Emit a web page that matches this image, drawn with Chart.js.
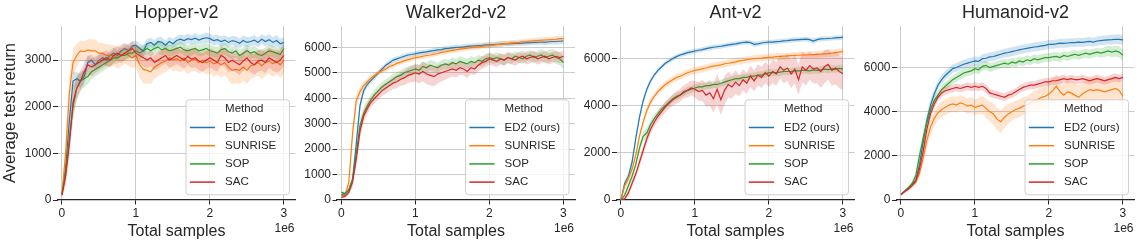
<!DOCTYPE html>
<html>
<head>
<meta charset="utf-8">
<script src="https://cdn.jsdelivr.net/npm/chart.js@4.4.1/dist/chart.umd.min.js"></script>
<style>
  body { margin: 0; background: #fff; }
  .panel { position: absolute; top: 0; }
</style>
</head>
<body>
<canvas class="panel" id="c0" width="300" height="247" style="left:0px"></canvas>
<canvas class="panel" id="c1" width="280" height="247" style="left:300px"></canvas>
<canvas class="panel" id="c2" width="280" height="247" style="left:580px"></canvas>
<canvas class="panel" id="c3" width="280" height="247" style="left:860px"></canvas>
<script>
// x values, in units of 1e6 samples
const samples = [
    0, 0.05, 0.1, 0.15, 0.2, 0.25, 0.3, 0.35, 0.4, 0.45,
    0.5, 0.55, 0.6, 0.65, 0.7, 0.75, 0.8, 0.85, 0.9, 0.95,
    1, 1.05, 1.1, 1.15, 1.2, 1.25, 1.3, 1.35, 1.4, 1.45,
    1.5, 1.55, 1.6, 1.65, 1.7, 1.75, 1.8, 1.85, 1.9, 1.95,
    2, 2.05, 2.1, 2.15, 2.2, 2.25, 2.3, 2.35, 2.4, 2.45,
    2.5, 2.55, 2.6, 2.65, 2.7, 2.75, 2.8, 2.85, 2.9, 2.95,
    3
];
const methods = ['ED2 (ours)', 'SUNRISE', 'SOP', 'SAC'];
const envTitles = ['Hopper-v2', 'Walker2d-v2', 'Ant-v2', 'Humanoid-v2'];
const xTicks = [0, 1, 2, 3];
const yTicksHopper = [0, 1000, 2000, 3000];
const yTicksWalker = [0, 1000, 2000, 3000, 4000, 5000, 6000];
const yTicksAnt = [0, 2000, 4000, 6000];
const yTicksHumanoid = [0, 2000, 4000, 6000];

// ---- Hopper-v2 ----
const hopperED2 = [
    120, 700, 1700, 2550, 2600, 2550, 2650, 2950, 3000, 2900,
    3000, 3050, 3000, 3100, 3150, 3100, 3200, 3250, 3200, 3300,
    3320, 3250, 3200, 3350, 3380, 3320, 3400, 3380, 3320, 3400,
    3350, 3420, 3450, 3420, 3460, 3440, 3470, 3430, 3460, 3480,
    3460, 3420, 3440, 3400, 3430, 3380, 3420, 3400, 3360, 3420,
    3380, 3400, 3430, 3380, 3450, 3400, 3440, 3380, 3420, 3350,
    3380
];
const hopperSUNRISE = [
    130, 1000, 2300, 2950, 3100, 3200, 3180, 3220, 3200, 3200,
    3150, 3150, 3100, 3100, 3100, 3050, 3100, 3150, 3100, 3050,
    3100, 2900, 2800, 2780, 2750, 2850, 2900, 2950, 2980, 3050,
    3000, 3030, 2980, 3050, 2950, 3000, 3020, 2950, 3000, 2950,
    2980, 2920, 2950, 2900, 2950, 2850, 2780, 2800, 2780, 2850,
    2780, 2880, 2900, 2950, 2880, 2950, 2980, 2920, 2970, 2900,
    3000
];
const hopperSOP = [
    120, 600, 1300, 2000, 2400, 2550, 2600, 2650, 2750, 2800,
    2850, 2900, 2950, 3000, 3050, 3050, 3100, 3100, 3150, 3150,
    3200, 3150, 3200, 3250, 3200, 3250, 3280, 3220, 3250, 3200,
    3220, 3250, 3280, 3220, 3200, 3230, 3250, 3200, 3220, 3250,
    3200, 3180, 3150, 3220, 3250, 3180, 3150, 3200, 3100, 3150,
    3200, 3150, 3180, 3120, 3100, 3150, 3200, 3180, 3150, 3120,
    3250
];
const hopperSAC = [
    100, 500, 1200, 2100, 2400, 2550, 2750, 2900, 2850, 2900,
    2950, 3000, 3050, 3000, 3100, 3150, 3100, 3150, 3200, 3250,
    3150, 3100, 3050, 3000, 3050, 2950, 3000, 3050, 3100, 3000,
    3050, 3100, 3050, 3000, 3080, 3020, 3050, 2980, 2950, 3000,
    3050, 3000, 2950, 3100, 3050, 2950, 3000, 2950, 2900, 2980,
    3050, 2950, 2900, 2980, 3000, 2950, 3050, 3000, 2950, 3000,
    3100
];
const hopperED2Err = [
    40, 200, 250, 200, 150, 150, 180, 150, 120, 120,
    120, 110, 120, 110, 120, 110, 120, 110, 110, 100,
    100, 110, 120, 110, 100, 110, 100, 110, 100, 100,
    110, 100, 100, 110, 100, 100, 110, 100, 100, 110,
    100, 110, 100, 110, 100, 110, 100, 110, 100, 110,
    110, 100, 110, 100, 110, 110, 120, 110, 120, 110,
    120
];
const hopperSUNRISEErr = [
    40, 300, 350, 300, 250, 220, 220, 230, 250, 240,
    230, 220, 240, 230, 220, 240, 230, 220, 230, 220,
    250, 280, 300, 280, 260, 250, 240, 250, 240, 230,
    240, 250, 240, 250, 260, 240, 250, 240, 250, 260,
    260, 270, 260, 280, 270, 280, 300, 290, 300, 280,
    290, 280, 270, 280, 290, 280, 270, 280, 270, 280,
    280
];
const hopperSOPErr = [
    40, 150, 250, 300, 250, 200, 180, 170, 160, 150,
    150, 140, 140, 130, 130, 130, 120, 120, 120, 120,
    120, 130, 120, 130, 120, 120, 130, 120, 120, 130,
    120, 120, 130, 120, 120, 130, 120, 120, 130, 120,
    130, 120, 130, 120, 130, 120, 130, 120, 130, 120,
    130, 120, 130, 120, 130, 120, 130, 120, 130, 130,
    140
];
const hopperSACErr = [
    40, 200, 300, 300, 250, 220, 200, 200, 190, 180,
    170, 170, 160, 160, 160, 150, 160, 150, 150, 160,
    170, 180, 180, 170, 180, 170, 180, 170, 180, 170,
    180, 190, 180, 190, 180, 190, 200, 190, 200, 190,
    200, 210, 200, 210, 200, 210, 220, 210, 220, 210,
    220, 210, 220, 230, 220, 230, 220, 230, 220, 230,
    220
];

// ---- Walker2d-v2 ----
const walkerED2 = [
    300, 250, 400, 800, 2200, 3700, 4300, 4550, 4700, 4850,
    5000, 5150, 5300, 5400, 5500, 5550, 5600, 5650, 5700, 5720,
    5750, 5780, 5800, 5820, 5850, 5870, 5900, 5910, 5950, 5960,
    5980, 6000, 6000, 6020, 6040, 6050, 6060, 6070, 6080, 6100,
    6100, 6110, 6120, 6130, 6150, 6140, 6150, 6160, 6160, 6170,
    6180, 6190, 6200, 6200, 6210, 6200, 6220, 6230, 6230, 6240,
    6250
];
const walkerSUNRISE = [
    150, 200, 700, 2600, 3900, 4250, 4500, 4650, 4800, 4900,
    5000, 5080, 5150, 5250, 5300, 5380, 5420, 5480, 5520, 5560,
    5600, 5620, 5650, 5680, 5700, 5730, 5760, 5800, 5820, 5850,
    5880, 5900, 5930, 5950, 5970, 5990, 6000, 6020, 6040, 6060,
    6070, 6090, 6110, 6130, 6150, 6160, 6180, 6190, 6200, 6220,
    6230, 6250, 6260, 6270, 6280, 6290, 6300, 6310, 6320, 6340,
    6350
];
const walkerSOP = [
    200, 250, 400, 800, 1800, 2900, 3400, 3700, 3950, 4150,
    4300, 4450, 4550, 4650, 4750, 4850, 4900, 5000, 5050, 5100,
    5150, 5100, 5250, 5200, 5300, 5250, 5200, 5300, 5350, 5300,
    5400, 5350, 5450, 5400, 5350, 5450, 5400, 5500, 5450, 5550,
    5600, 5550, 5600, 5550, 5500, 5600, 5550, 5650, 5600, 5550,
    5650, 5700, 5600, 5650, 5700, 5600, 5650, 5700, 5600, 5550,
    5400
];
const walkerSAC = [
    100, 150, 300, 700, 1600, 2700, 3300, 3600, 3850, 4000,
    4150, 4300, 4400, 4500, 4600, 4650, 4750, 4800, 4900, 4950,
    5000, 4950, 5050, 4950, 4900, 4850, 4950, 5000, 5050, 5100,
    5150, 5100, 5200, 5150, 5050, 5200, 5150, 5300, 5400, 5450,
    5550, 5500, 5450, 5550, 5500, 5600, 5550, 5500, 5600, 5650,
    5550, 5600, 5650, 5550, 5600, 5650, 5550, 5600, 5650, 5600,
    5650
];
const walkerED2Err = [
    60, 60, 80, 150, 250, 200, 150, 130, 120, 110,
    100, 100, 100, 100, 100, 100, 100, 100, 100, 100,
    100, 100, 110, 100, 100, 110, 100, 100, 110, 100,
    100, 110, 100, 100, 110, 100, 100, 110, 100, 100,
    110, 100, 100, 110, 100, 100, 110, 100, 100, 110,
    110, 110, 110, 110, 110, 120, 120, 120, 120, 120,
    120
];
const walkerSUNRISEErr = [
    50, 50, 100, 250, 250, 200, 150, 130, 120, 110,
    100, 100, 100, 100, 100, 100, 100, 100, 100, 100,
    100, 100, 100, 100, 100, 100, 100, 100, 100, 100,
    100, 100, 100, 100, 100, 100, 100, 100, 100, 100,
    100, 100, 110, 110, 110, 110, 110, 110, 110, 110,
    110, 110, 120, 120, 120, 120, 120, 120, 120, 120,
    120
];
const walkerSOPErr = [
    50, 60, 100, 200, 300, 300, 250, 220, 200, 200,
    200, 200, 200, 200, 200, 200, 200, 200, 200, 200,
    200, 200, 200, 200, 200, 200, 200, 200, 200, 200,
    200, 200, 200, 200, 200, 200, 200, 200, 200, 200,
    200, 200, 200, 200, 200, 200, 200, 200, 200, 200,
    200, 210, 220, 220, 230, 230, 240, 240, 250, 250,
    250
];
const walkerSACErr = [
    50, 60, 100, 200, 300, 300, 250, 220, 200, 200,
    200, 200, 220, 220, 240, 250, 260, 280, 300, 320,
    340, 360, 380, 400, 400, 380, 360, 340, 320, 300,
    300, 280, 280, 260, 260, 250, 250, 240, 240, 230,
    230, 220, 220, 220, 220, 220, 220, 220, 220, 220,
    220, 220, 220, 220, 220, 220, 220, 220, 220, 220,
    220
];

// ---- Ant-v2 ----
const antED2 = [
    0, 700, 1000, 1600, 2600, 3500, 4200, 4700, 5050, 5300,
    5500, 5650, 5800, 5900, 6000, 6080, 6150, 6200, 6250, 6280,
    6320, 6350, 6380, 6420, 6450, 6480, 6500, 6520, 6550, 6580,
    6600, 6620, 6650, 6680, 6700, 6680, 6600, 6620, 6660, 6680,
    6700, 6700, 6720, 6730, 6750, 6760, 6780, 6790, 6800, 6810,
    6820, 6800, 6740, 6800, 6830, 6840, 6850, 6860, 6880, 6890,
    6900
];
const antSUNRISE = [
    0, 600, 900, 1300, 1900, 2700, 3300, 3800, 4150, 4400,
    4600, 4750, 4900, 5000, 5100, 5200, 5250, 5320, 5400, 5450,
    5500, 5530, 5560, 5600, 5650, 5680, 5700, 5730, 5780, 5800,
    5830, 5860, 5900, 5920, 5950, 5970, 6000, 6010, 6020, 6040,
    6050, 6060, 6080, 6090, 6100, 6110, 6120, 6130, 6140, 6150,
    6150, 6160, 6170, 6180, 6190, 6200, 6210, 6230, 6250, 6270,
    6300
];
const antSOP = [
    0, 200, 600, 1000, 1500, 2200, 2700, 2850, 3200, 3450,
    3650, 3850, 4000, 4150, 4300, 4400, 4450, 4550, 4650, 4700,
    4750, 4800, 4800, 4850, 4850, 4900, 4900, 4950, 5000, 5050,
    5100, 5150, 5150, 5200, 5200, 5250, 5250, 5300, 5300, 5350,
    5400, 5400, 5400, 5420, 5450, 5450, 5450, 5480, 5480, 5500,
    5500, 5480, 5520, 5500, 5520, 5550, 5530, 5560, 5550, 5580,
    5550
];
const antSAC = [
    0, 50, 300, 700, 1100, 1600, 2100, 2600, 3000, 3300,
    3550, 3750, 3950, 4100, 4250, 4350, 4450, 4600, 4650, 4750,
    4700, 4600, 4650, 4450, 4550, 4300, 4700, 4250, 4650, 4900,
    4800, 5000, 4850, 5100, 4950, 5250, 5050, 5300, 5200, 5400,
    5250, 5450, 5350, 5650, 5500, 5600, 5350, 5550, 5100, 5650,
    5500, 5700, 5550, 5600, 5450, 5650, 5750, 5500, 5600, 5450,
    5350
];
const antED2Err = [
    50, 150, 150, 150, 150, 150, 130, 120, 110, 100,
    100, 100, 100, 100, 100, 100, 100, 100, 100, 100,
    100, 100, 100, 100, 100, 100, 100, 100, 100, 100,
    100, 100, 100, 100, 100, 100, 120, 110, 100, 100,
    100, 100, 100, 100, 100, 100, 100, 100, 100, 100,
    100, 100, 120, 100, 100, 100, 100, 100, 100, 100,
    100
];
const antSUNRISEErr = [
    50, 150, 150, 150, 150, 150, 150, 150, 150, 150,
    150, 150, 150, 150, 150, 150, 150, 150, 150, 150,
    150, 150, 150, 150, 150, 150, 150, 150, 150, 150,
    150, 150, 150, 150, 150, 150, 150, 150, 150, 150,
    150, 150, 150, 150, 150, 150, 150, 150, 150, 150,
    150, 150, 150, 150, 150, 150, 150, 150, 150, 150,
    150
];
const antSOPErr = [
    50, 120, 150, 150, 150, 200, 200, 200, 180, 170,
    160, 150, 150, 150, 150, 150, 150, 150, 150, 150,
    150, 150, 150, 150, 150, 150, 150, 150, 150, 150,
    150, 150, 150, 150, 150, 150, 150, 150, 150, 150,
    150, 150, 150, 150, 150, 150, 150, 150, 150, 150,
    150, 150, 150, 150, 150, 150, 150, 150, 150, 150,
    150
];
const antSACErr = [
    50, 50, 150, 150, 150, 200, 200, 200, 200, 200,
    220, 220, 230, 240, 250, 260, 270, 280, 300, 320,
    350, 400, 450, 500, 550, 600, 650, 650, 600, 550,
    500, 500, 450, 450, 450, 450, 450, 450, 450, 450,
    450, 500, 500, 500, 550, 550, 600, 600, 650, 650,
    650, 600, 600, 650, 700, 700, 650, 650, 700, 700,
    700
];

// ---- Humanoid-v2 ----
const humanoidED2 = [
    250, 400, 550, 700, 900, 1600, 2600, 3600, 4300, 4800,
    5200, 5450, 5650, 5800, 5950, 6000, 6080, 6150, 6200, 6250,
    6300, 6280, 6400, 6420, 6480, 6500, 6550, 6600, 6650, 6680,
    6720, 6760, 6800, 6840, 6870, 6900, 6930, 6950, 6980, 7000,
    7050, 7050, 7070, 7100, 7090, 7110, 7130, 7130, 7150, 7140,
    7160, 7180, 7150, 7200, 7220, 7240, 7250, 7260, 7280, 7270,
    7250
];
const humanoidSUNRISE = [
    250, 380, 500, 650, 800, 1200, 1900, 2700, 3300, 3700,
    3950, 4100, 4200, 4300, 4350, 4300, 4400, 4350, 4250, 4300,
    4200, 4250, 4300, 4150, 4000, 3900, 3650, 3550, 3750, 3900,
    4000, 4100, 4150, 4250, 4300, 4400, 4500, 4550, 4650, 4700,
    4800, 4950, 5150, 4900, 4750, 4900, 4850, 4750, 4650, 4800,
    4900, 5000, 4950, 5000, 4950, 4900, 4950, 5000, 5050, 4950,
    4700
];
const humanoidSOP = [
    250, 400, 550, 750, 1100, 2000, 2800, 3500, 4100, 4500,
    4750, 5000, 5150, 5300, 5450, 5550, 5650, 5750, 5800, 5850,
    5950, 5900, 6050, 6100, 6000, 6050, 6100, 6150, 6200, 6150,
    6250, 6200, 6300, 6250, 6350, 6300, 6400, 6350, 6400, 6450,
    6450, 6480, 6500, 6450, 6550, 6500, 6550, 6600, 6550, 6600,
    6650, 6600, 6650, 6700, 6650, 6700, 6750, 6700, 6750, 6700,
    6550
];
const humanoidSAC = [
    250, 380, 500, 650, 850, 1400, 2200, 3200, 3900, 4350,
    4650, 4850, 4950, 5000, 5050, 5100, 5050, 5100, 5150, 5100,
    5150, 5100, 5150, 5050, 4850, 4800, 4750, 4700, 4650, 4750,
    4800, 4900, 5000, 5100, 5150, 5200, 5200, 5250, 5300, 5350,
    5350, 5400, 5400, 5450, 5500, 5450, 5500, 5450, 5450, 5500,
    5450, 5400, 5450, 5500, 5450, 5400, 5450, 5500, 5550, 5500,
    5550
];
const humanoidED2Err = [
    50, 60, 70, 80, 100, 200, 300, 300, 250, 230,
    200, 200, 200, 200, 200, 200, 200, 200, 200, 200,
    200, 200, 200, 200, 200, 200, 200, 200, 200, 200,
    200, 200, 200, 200, 200, 200, 200, 200, 200, 200,
    200, 200, 200, 200, 200, 200, 200, 200, 200, 200,
    200, 200, 200, 200, 210, 210, 210, 220, 220, 220,
    220
];
const humanoidSUNRISEErr = [
    50, 60, 70, 80, 100, 200, 300, 350, 350, 350,
    350, 350, 350, 350, 350, 350, 350, 350, 350, 350,
    350, 380, 400, 420, 450, 480, 500, 500, 480, 450,
    420, 400, 400, 400, 400, 420, 450, 480, 500, 520,
    550, 550, 550, 550, 550, 550, 550, 550, 550, 550,
    550, 550, 550, 550, 550, 550, 550, 550, 550, 550,
    550
];
const humanoidSOPErr = [
    50, 60, 70, 80, 120, 250, 300, 300, 250, 220,
    200, 200, 200, 200, 200, 200, 200, 200, 200, 200,
    200, 200, 200, 200, 200, 200, 200, 200, 200, 200,
    200, 200, 200, 200, 200, 200, 200, 200, 200, 200,
    200, 200, 200, 200, 200, 200, 200, 200, 200, 200,
    200, 200, 200, 200, 210, 220, 230, 240, 250, 250,
    250
];
const humanoidSACErr = [
    50, 60, 70, 80, 100, 200, 250, 250, 220, 200,
    180, 180, 180, 180, 180, 180, 180, 180, 180, 180,
    180, 180, 180, 180, 180, 180, 180, 180, 180, 180,
    180, 180, 180, 180, 180, 180, 180, 180, 180, 180,
    180, 180, 180, 180, 180, 180, 180, 180, 180, 180,
    180, 180, 180, 180, 180, 180, 180, 180, 180, 180,
    180
];

const lineColors = ['#1f77b4', '#ff7f0e', '#2ca02c', '#d62728'];
const bandColors = ['rgba(31,119,180,0.2)', 'rgba(255,127,14,0.2)', 'rgba(44,160,44,0.2)', 'rgba(214,39,40,0.2)'];
const FONT = '"Liberation Sans", Arial, sans-serif';
const TEXT = '#262626';

const panels = [
    { id: 'c0', title: envTitles[0], yMax: 3732, yTicks: yTicksHopper, axisW: 57.5, padRight: 4.5, yLabel: 'Average test return',
      means: [hopperED2, hopperSUNRISE, hopperSOP, hopperSAC], errs: [hopperED2Err, hopperSUNRISEErr, hopperSOPErr, hopperSACErr] },
    { id: 'c1', title: envTitles[1], yMax: 6840, yTicks: yTicksWalker, axisW: 37, padRight: 5, yLabel: '',
      means: [walkerED2, walkerSUNRISE, walkerSOP, walkerSAC], errs: [walkerED2Err, walkerSUNRISEErr, walkerSOPErr, walkerSACErr] },
    { id: 'c2', title: envTitles[2], yMax: 7380, yTicks: yTicksAnt, axisW: 36.5, padRight: 5.5, yLabel: '',
      means: [antED2, antSUNRISE, antSOP, antSAC], errs: [antED2Err, antSUNRISEErr, antSOPErr, antSACErr] },
    { id: 'c3', title: envTitles[3], yMax: 7880, yTicks: yTicksHumanoid, axisW: 36.5, padRight: 5.5, yLabel: '',
      means: [humanoidED2, humanoidSUNRISE, humanoidSOP, humanoidSAC], errs: [humanoidED2Err, humanoidSUNRISEErr, humanoidSOPErr, humanoidSACErr] }
];

panels.forEach(p => p.means.concat(p.errs).forEach((arr, i) => {
    if (arr.length !== samples.length) throw new Error(p.title + ' array ' + i + ' has ' + arr.length + ' values');
}));

// titles, "1e6" offset label and the boxed legend
const decorPlugin = {
    id: 'decor',
    afterDraw(chart, args, opts) {
        const { ctx, chartArea } = chart;
        ctx.save();
        ctx.fillStyle = TEXT;
        ctx.textBaseline = 'middle';

        ctx.font = '18px ' + FONT;
        ctx.textAlign = 'center';
        ctx.fillText(opts.title, (chartArea.left + chartArea.right) / 2, 13.5);

        ctx.font = '12px ' + FONT;
        ctx.textAlign = 'right';
        ctx.fillText('1e6', chartArea.right - 1, 229);

        const w = 103.5, h = 95;
        const x0 = chartArea.right - 6.5 - w;
        const y0 = chartArea.bottom - 5.7 - h;
        ctx.beginPath();
        ctx.roundRect(x0 + 0.5, y0 + 0.5, w, h, 3);
        ctx.fillStyle = 'rgba(255,255,255,0.8)';
        ctx.fill();
        ctx.strokeStyle = '#d0d0d0';
        ctx.lineWidth = 1;
        ctx.stroke();

        ctx.font = '11.5px ' + FONT;
        ctx.textAlign = 'left';
        ctx.fillStyle = TEXT;
        ctx.fillText('Method', x0 + 39.6, y0 + 10);
        methods.forEach((m, i) => {
            const y = y0 + 10 + 18.2 * (i + 1);
            ctx.strokeStyle = lineColors[i];
            ctx.lineWidth = 1.5;
            ctx.beginPath();
            ctx.moveTo(x0 + 4.3, y);
            ctx.lineTo(x0 + 29.6, y);
            ctx.stroke();
            ctx.fillStyle = TEXT;
            ctx.fillText(m, x0 + 39.6, y);
        });
        ctx.restore();
    }
};

Chart.defaults.font.family = FONT;
Chart.defaults.color = TEXT;

panels.forEach(p => {
    const datasets = [];
    methods.forEach((m, k) => {
        const mean = p.means[k], err = p.errs[k];
        datasets.push({
            label: m + ' upper',
            data: samples.map((s, i) => ({ x: s, y: mean[i] + err[i] })),
            borderWidth: 0, pointRadius: 0, fill: false, order: 9 - 2 * k
        });
        datasets.push({
            label: m + ' lower',
            data: samples.map((s, i) => ({ x: s, y: Math.max(0, mean[i] - err[i]) })),
            borderWidth: 0, pointRadius: 0, fill: '-1', backgroundColor: bandColors[k], order: 9 - 2 * k
        });
        datasets.push({
            label: m,
            data: samples.map((s, i) => ({ x: s, y: mean[i] })),
            borderColor: lineColors[k], borderWidth: 1.2, pointRadius: 0, fill: false, order: 8 - 2 * k
        });
    });

    new Chart(document.getElementById(p.id), {
        type: 'line',
        data: { datasets: datasets },
        plugins: [decorPlugin],
        options: {
            responsive: false,
            animation: false,
            devicePixelRatio: 1,
            layout: { padding: { top: 26, right: p.padRight, left: 0, bottom: 0 } },
            plugins: {
                legend: { display: false },
                tooltip: { enabled: false },
                decor: { title: p.title }
            },
            scales: {
                x: {
                    type: 'linear',
                    min: -0.06,
                    max: 3.156,
                    afterBuildTicks: scale => { scale.ticks = xTicks.map(v => ({ value: v })); },
                    afterFit: scale => { scale.height = 47; },
                    ticks: { font: { size: 12 }, color: TEXT, padding: 2, callback: v => String(v) },
                    grid: { color: '#cccccc', lineWidth: 1, tickLength: 4.5, tickColor: TEXT, tickWidth: 1 },
                    border: { display: true, color: TEXT, width: 1.25 },
                    title: { display: true, text: 'Total samples', font: { size: 16 }, color: TEXT, padding: { top: 0, bottom: 5.4 } }
                },
                y: {
                    type: 'linear',
                    min: 0,
                    max: p.yMax,
                    afterBuildTicks: scale => { scale.ticks = p.yTicks.map(v => ({ value: v })); },
                    afterFit: scale => { scale.width = p.axisW; },
                    ticks: { font: { size: 12 }, color: TEXT, padding: 1.5, callback: v => String(v) },
                    grid: {
                        color: c => (c.tick && c.tick.value === 0) ? 'rgba(0,0,0,0)' : '#cccccc',
                        lineWidth: 1, tickLength: 4.5, tickColor: TEXT, tickWidth: 1
                    },
                    border: { display: false },
                    title: { display: p.yLabel !== '', text: p.yLabel, font: { size: 16.5 }, color: TEXT, padding: { top: 0.5, bottom: 0 } }
                }
            }
        }
    });
});
</script>
</body>
</html>
